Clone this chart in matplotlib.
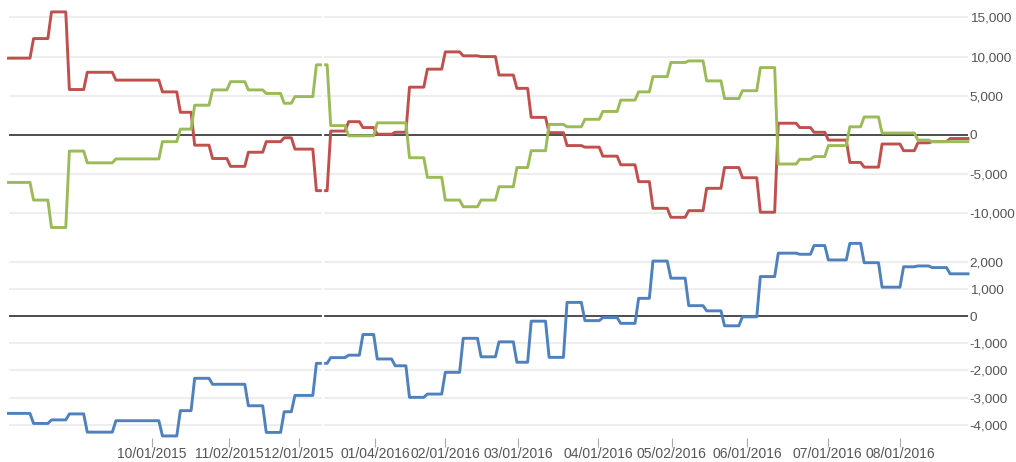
import matplotlib
matplotlib.use("Agg")
import matplotlib.pyplot as plt
import numpy as np

plt.rcParams["font.family"] = ["Liberation Sans", "DejaVu Sans"]

# trading-day index where each weekly level starts; last day of the series
seg_start = [0, 7, 12, 17, 22, 30, 43, 48, 52, 57, 62, 67, 72, 77, 80, 86, 90,
             95, 99, 103, 108, 112, 117, 122, 127, 132, 137, 142, 146, 151, 156,
             161, 166, 171, 176, 180, 185, 190, 195, 200, 205, 210, 215, 221,
             225, 229, 235, 239, 244, 250, 254, 258, 263]
last_day = 268

red = [9800, 12300, 15700, 5800, 8000, 7000, 5500, 2900, -1300, -3000,
       -4000, -2200, -850, -350, -1800, -7100, 500, 1700, 950, 100,
       350, 6100, 8400, 10600, 10100, 10000, 7650, 5950, 2250, 300,
       -1350, -1550, -2700, -3800, -5950, -9350, -10500, -9650, -6800, -4150,
       -5450, -9850, 1500, 950, 350, -650, -3500, -4100, -1150, -2000,
       -1000, -850, -450]
green = [-6050, -8300, -11800, -2050, -3550, -3050, -850, 750, 3800, 5750,
         6800, 5750, 5300, 4050, 4900, 8950, 1200, -100, -100, 1550,
         1550, -2900, -5400, -8300, -9150, -8300, -6600, -4150, -2000, 1350,
         1050, 2000, 3000, 4450, 5500, 7450, 9250, 9450, 6900, 4650,
         5650, 8600, -3700, -3100, -2750, -1350, 1050, 2300, 250, 250,
         -650, -850, -850]
blue = [-3580, -3950, -3820, -3600, -4270, -3850, -4410, -3480, -2290, -2510,
        -2510, -3300, -4280, -3520, -2920, -1740, -1530, -1440, -680, -1580,
        -1830, -2990, -2870, -2070, -820, -1500, -950, -1700, -190, -1520,
        500, -170, -60, -270, 650, 2020, 1390, 380, 190, -360,
        -30, 1450, 2310, 2270, 2590, 2060, 2670, 1960, 1060, 1810,
        1840, 1780, 1550]

tick_days = [40, 61.7, 81.1, 102.4, 121.9, 142.4, 164.7, 185.2, 206.4, 228.8, 249]
tick_labels = ["10/01/2015", "11/02/2015", "12/01/2015", "01/04/2016",
               "02/01/2016", "03/01/2016", "04/01/2016", "05/02/2016",
               "06/01/2016", "07/01/2016", "08/01/2016"]
top_ticks = [-10000, -5000, 0, 5000, 10000, 15000]
bot_ticks = [-4000, -3000, -2000, -1000, 0, 1000, 2000]

RED, GREEN, BLUE = "#c0504d", "#9bbb59", "#4f81bd"
TXT = "#555555"
W, H = 1016, 462


def step_xy(vals):
    starts = np.array(seg_start, dtype=float)
    ends = np.append(starts[1:] - 1, last_day)
    xs = np.column_stack([starts, ends]).ravel()
    ys = np.repeat(np.array(vals, dtype=float), 2)
    return xs, ys


def style(ax, ticks, ylim):
    ax.set_xlim(0, last_day)
    ax.set_ylim(*ylim)
    for s in ax.spines.values():
        s.set_visible(False)
    ax.yaxis.tick_right()
    ax.set_yticks(ticks)
    ax.set_yticklabels([f"{t:,}" for t in ticks])
    ax.tick_params(axis="y", length=0, pad=1.3, labelsize=9.7, labelcolor=TXT)
    for t in ticks:
        if t != 0:
            ax.axhline(t, color="#eeeeee", lw=1.5, zorder=0)
    ax.axhline(0, color="#4d4d4d", lw=1.4, zorder=1)
    ax.axvline(87.85, color="white", lw=1.6, zorder=5)


fig = plt.figure(figsize=(W / 100, H / 100), dpi=100)
ax1 = fig.add_axes([8.5 / W, 1 - 235 / H, 959.5 / W, 235 / H])
ax2 = fig.add_axes([8.5 / W, 1 - 438 / H, 959.5 / W, 198 / H])

style(ax1, top_ticks, (-12755, 17219))
style(ax2, bot_ticks, (-4485, 2794))

for ax, vals, c in [(ax1, red, RED), (ax1, green, GREEN), (ax2, blue, BLUE)]:
    x, y = step_xy(vals)
    ax.plot(x, y, color=c, lw=2.1, zorder=3, clip_on=False,
            solid_joinstyle="round")

ax1.set_xticks([])
ax2.set_xticks(tick_days)
ax2.set_xticklabels(tick_labels)
ax2.tick_params(axis="x", length=6.5, width=0.8, color="#aaaaaa", pad=0.3,
                labelsize=10.0, labelcolor=TXT)

fig.savefig("out.png", dpi=100, facecolor="white")
